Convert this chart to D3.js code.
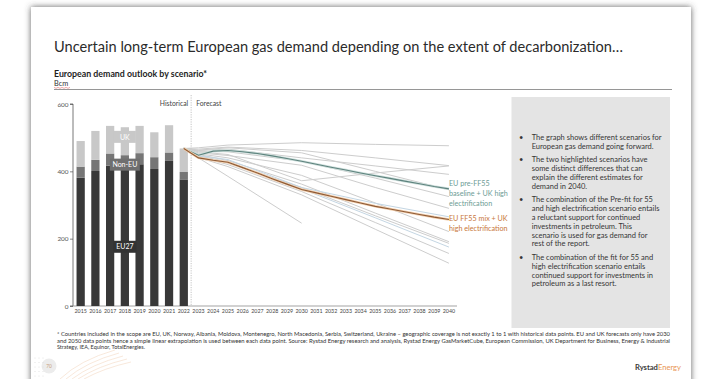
<!DOCTYPE html>
<html><head><meta charset="utf-8">
<script src="https://cdn.jsdelivr.net/npm/d3@7"></script>
<style>html,body{margin:0;padding:0;background:#fff;overflow:hidden}svg{display:block}</style>
</head><body><svg id="c" width="705" height="379"></svg>
<script>
// ---------------- DATA ----------------
const years = ["2015","2016","2017","2018","2019","2020","2021","2022","2023","2024","2025","2026","2027","2028","2029","2030","2031","2032","2033","2034","2035","2036","2037","2038","2039","2040"];
const histYears = ["2015","2016","2017","2018","2019","2020","2021","2022"];
const eu27  = [381, 401, 417, 414, 421, 407, 431, 376];
const nonEU = [33, 33, 36, 34, 33, 35, 25, 22];
const uk    = [76, 86, 82, 83, 81, 74, 81, 70];
const yTicks = [0, 200, 400, 600];

const scenarioYears = ["2022","2023","2025","2030","2035","2040"];
const grayScenarios = [
  [468, 470, 478, 485, 480, 476],
  [468, 466, 472, 462, 440, 417],
  [468, 462, 466, 440, 416, 391],
  [468, 458, 450, 372, 395, 416],
  [468, 463, 470, 455, 400, 345],
  [468, 460, 458, 430, 380, 325],
  [468, 455, 447, 418, 352, 290],
  [468, 452, 440, 388, 306, 221],
  [468, 450, 432, 362, 276, 191],
  [468, 447, 425, 352, 268, 186],
  [468, 444, 420, 340, 248, 156],
  [468, 441, 414, 330, 228, 127],
  [468, 440, 385, 246, null, null]
];
const blueScenarios = [
  [468, 447, 435, 352, 305, 265],
  [468, 446, 428, 348, 262, 175]
];
const forecastYears = ["2022","2023","2024","2025","2026","2027","2028","2029","2030","2031","2032","2033","2034","2035","2036","2037","2038","2039","2040"];
const tealValues   = [468, 448, 460, 462, 458, 453, 446, 438, 430, 421, 412, 404, 395, 387, 379, 371, 363, 355, 348];
const orangeValues = [468, 440, 433, 427, 411, 395, 378, 362, 346, 336, 326, 316, 306, 296, 288, 280, 272, 264, 257];
const tealLabel = ["EU pre-FF55", "baseline + UK high", "electrification"];
const orangeLabel = ["EU FF55 mix + UK", "high electrification"];

const title = "Uncertain long-term European gas demand depending on the extent of decarbonization…";
const subtitle = "European demand outlook by scenario*";
const unit = "Bcm";
const bullets = [
  ["The graph shows different scenarios for", "European gas demand going forward."],
  ["The two highlighted scenarios have", "some distinct differences that can", "explain the different estimates for", "demand in 2040."],
  ["The combination of the Pre-fit for 55", "and high electrification scenario entails", "a reluctant support for continued", "investments in petroleum. This", "scenario is used for gas demand for", "rest of the report."],
  ["The combination of the fit for 55 and", "high electrification scenario entails", "continued support for investments in", "petroleum as a last resort."]
];
const footnote = [
  "* Countries included in the scope are EU, UK, Norway, Albania, Moldova, Montenegro, North Macedonia, Serbia, Switzerland, Ukraine – geographic coverage is not exactly 1 to 1 with historical data points. EU and UK forecasts only have 2030",
  "and 2050 data points hence a simple linear extrapolation is used between each data point. Source: Rystad Energy research and analysis, Rystad Energy GasMarketCube, European Commission, UK Department for Business, Energy & Industrial",
  "Strategy, IEA, Equinor, TotalEnergies."
];

// ---------------- DRAW ----------------
const svg = d3.select("#c");
const F = "Lato, 'Open Sans', sans-serif";
const defs = svg.append("defs");
const f = defs.append("filter").attr("id","sh").attr("x","-5%").attr("y","-5%").attr("width","110%").attr("height","110%");
f.append("feDropShadow").attr("dx",0).attr("dy",0).attr("stdDeviation",3.2).attr("flood-color","#444").attr("flood-opacity",0.85);

svg.append("rect").attr("width",705).attr("height",379).attr("fill","#fff");
svg.append("rect").attr("x",31).attr("y",7).attr("width",660).attr("height",400).attr("fill","#fff").attr("filter","url(#sh)");

// titles
svg.append("text").attr("x",54).attr("y",51.5).attr("font-family",F).attr("font-size",14.6).attr("fill","#2b2b2b").text(title);
svg.append("text").attr("x",54).attr("y",77).attr("font-family",F).attr("font-weight","bold").attr("font-size",8.8).attr("fill","#1e1e1e").text(subtitle);
svg.append("text").attr("x",54).attr("y",85.8).attr("font-family",F).attr("font-size",7.3).attr("fill","#333").text(unit);
svg.append("path").attr("d", d3.range(0,9).map(i=>(i?"L":"M")+(54+i*2)+","+(87.6+(i%2?0.7:-0.2))).join(""))
  .attr("fill","none").attr("stroke","#e05050").attr("stroke-width",0.5);
svg.append("line").attr("x1",54).attr("x2",672).attr("y1",89.5).attr("y2",89.5).attr("stroke","#8a8a8a").attr("stroke-width",0.9);

// scales
const x = d3.scaleBand().domain(years).range([73.3, 456.3]).paddingInner(0.44).paddingOuter(0.22);
const y = d3.scaleLinear().domain([0,600]).range([306, 104]);
const cx = d => x(d) + x.bandwidth()/2;

// y axis
const yAxis = d3.axisLeft(y).tickValues(yTicks).tickSize(3).tickPadding(1.5);
const ga = svg.append("g").attr("transform","translate(73,0)").call(yAxis);
ga.select(".domain").attr("stroke","#555").attr("stroke-width",0.8).attr("d","M-3,"+y(600)+"H0V"+y(0)+"H-3");
ga.selectAll(".tick line").attr("stroke","#555").attr("stroke-width",0.7);
ga.selectAll("text").attr("font-family",F).attr("font-size",6.4).attr("fill","#555");

// x axis
const xAxis = d3.axisBottom(x).tickSize(0).tickPadding(3.5);
const gx = svg.append("g").attr("transform","translate(0,306)").call(xAxis);
gx.select(".domain").attr("stroke","#999").attr("stroke-width",0.9).attr("d","M73,0H457");
gx.selectAll("text").attr("font-family",F).attr("font-size",5.3).attr("fill","#444");

// stacked bars
const histData = histYears.map((yr,i)=>({year:yr, eu27:eu27[i], nonEU:nonEU[i], uk:uk[i]}));
const stack = d3.stack().keys(["eu27","nonEU","uk"])(histData);
const colors = {eu27:"#383838", nonEU:"#767676", uk:"#c8c8c8"};
svg.append("g").selectAll("g").data(stack).join("g").attr("fill",d=>colors[d.key])
  .selectAll("rect").data(d=>d).join("rect")
  .attr("x",d=>x(d.data.year)).attr("width",x.bandwidth())
  .attr("y",d=>y(d[1])).attr("height",d=>y(d[0])-y(d[1]));

// series labels on bars
const lab = [
  {t:"UK", v:(uk[3]/2+eu27[3]+nonEU[3])+12, c:"#c8c8c8", w:22},
  {t:"Non-EU", v:eu27[3]+nonEU[3]/2 - 12, c:"#6f6f6f", w:30},
  {t:"EU27", v:175, c:"#333", w:23}
];
const lg = svg.append("g");
lab.forEach(l=>{
  const yy = y(l.v);
  lg.append("rect").attr("x",cx("2018")-l.w/2).attr("y",yy-6.3).attr("width",l.w).attr("height",12).attr("fill",l.c);
  lg.append("text").attr("x",cx("2018")).attr("y",yy+2.4).attr("text-anchor","middle").attr("font-family",F)
    .attr("font-size",7).attr("fill","#fff").text(l.t);
});

// divider
const divX = (cx("2022")+cx("2023"))/2;
svg.append("line").attr("x1",divX).attr("x2",divX).attr("y1",95).attr("y2",306)
  .attr("stroke","#b5b5b5").attr("stroke-width",0.8).attr("stroke-dasharray","1.2,1.2");
svg.append("text").attr("x",divX-3).attr("y",106).attr("text-anchor","end").attr("font-family",F).attr("font-size",6.8).attr("fill","#444").text("Historical");
svg.append("text").attr("x",divX+5).attr("y",106).attr("font-family",F).attr("font-size",6.8).attr("fill","#444").text("Forecast");

// scenario lines
const lineS = d3.line().defined(d=>d[1]!=null).x(d=>cx(d[0])).y(d=>y(d[1]));
const lg2 = svg.append("g").attr("fill","none");
grayScenarios.forEach(s=>{
  lg2.append("path").attr("d", lineS(scenarioYears.map((yr,i)=>[yr,s[i]]))).attr("stroke","#cdcdcd").attr("stroke-width",1);
});
blueScenarios.forEach(s=>{
  lg2.append("path").attr("d", lineS(scenarioYears.map((yr,i)=>[yr,s[i]]))).attr("stroke","#c4d6e3").attr("stroke-width",1);
});
const tealPts = forecastYears.map((yr,i)=>[yr,tealValues[i]]);
const orPts = forecastYears.map((yr,i)=>[yr,orangeValues[i]]);
lg2.append("path").attr("d",lineS(tealPts)).attr("stroke","#cfe0dd").attr("stroke-width",2.6);
lg2.append("path").attr("d",lineS(tealPts)).attr("stroke","#5d827d").attr("stroke-width",1.1);
lg2.append("path").attr("d",lineS(orPts)).attr("stroke","#f2cfae").attr("stroke-width",2.6);
lg2.append("path").attr("d",lineS(orPts)).attr("stroke","#8d5a36").attr("stroke-width",1.1);

// line labels
const lx = cx("2040");
tealLabel.forEach((t,i)=>svg.append("text").attr("x",lx).attr("y",185.5+i*10).attr("font-family",F).attr("font-size",7.2).attr("fill","#6d9c95").text(t));
orangeLabel.forEach((t,i)=>svg.append("text").attr("x",lx).attr("y",220.5+i*10).attr("font-family",F).attr("font-size",7.2).attr("fill","#c8773b").text(t));

// text box
svg.append("rect").attr("x",511.5).attr("y",97).attr("width",158.5).attr("height",231).attr("fill","#e4e4e4");
let by = 140;
const tb = svg.append("g").attr("font-family",F).attr("font-size",7.5).attr("fill","#363636");
bullets.forEach(b=>{
  tb.append("text").attr("x",519).attr("y",by).text("•");
  b.forEach((ln,j)=>{ tb.append("text").attr("x",531.7).attr("y",by+j*8.8).text(ln); });
  by += b.length*8.8 + 4.8;
});

// footnote
const fg = svg.append("g").attr("font-family",F).attr("font-size",5.5).attr("fill","#333");
footnote.forEach((t,i)=>{
  const tx = fg.append("text").attr("x",57).attr("y",336+i*6.5).text(t);
  if (i<2) tx.attr("textLength",613).attr("lengthAdjust","spacingAndGlyphs");
});

// footer
svg.append("circle").attr("cx",49).attr("cy",366).attr("r",7.5).attr("fill","#ececec");
svg.append("text").attr("x",49).attr("y",368).attr("text-anchor","middle").attr("font-family",F).attr("font-size",4.8).attr("fill","#c9a07a").text("70");
const arcs = svg.append("g").attr("fill","none").attr("stroke","#f3d9c3").attr("stroke-width",0.6);
[0,1,2,3,4].forEach(i=>arcs.append("path").attr("d",`M${60+i*6},379 Q${80+i*6},${360+i*2} ${115+i*4},${350+i*3}`));
const dots = svg.append("g").attr("fill","#d9d9d9");
[0,1,2].forEach(c=>[0,1,2,3,4].forEach(r=>dots.append("circle").attr("cx",35+c*4).attr("cy",358+r*4.5).attr("r",0.5)));
const logo = svg.append("text").attr("x",681).attr("y",370).attr("text-anchor","end").attr("font-family",F).attr("font-size",7.6);
logo.append("tspan").attr("font-weight","bold").attr("fill","#3a3a3a").text("Rystad");
logo.append("tspan").attr("fill","#e99552").text("Energy");
</script></body></html>
